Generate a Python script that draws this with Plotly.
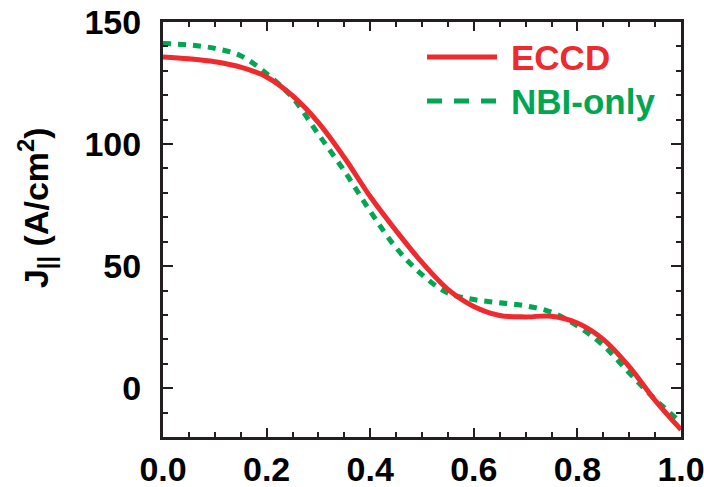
import plotly.graph_objects as go

# Data
rho = [0.00, 0.05, 0.10, 0.15, 0.20, 0.25, 0.30, 0.35, 0.40, 0.45, 0.50,
       0.55, 0.60, 0.65, 0.70, 0.75, 0.80, 0.85, 0.90, 0.95, 1.00]
eccd = [135.7, 134.9, 133.7, 131.5, 127.5, 119.8, 108.8, 94.5, 78.5, 64.5, 51.5,
        40.5, 33.5, 29.8, 29.2, 29.5, 26.7, 20.0, 8.8, -5.0, -17.0]
nbi = [141.2, 140.6, 139.2, 136.2, 128.8, 119.0, 104.0, 89.0, 72.5, 57.5, 46.5,
       39.0, 36.3, 35.0, 33.7, 31.1, 25.5, 17.5, 6.3, -4.6, -14.0]

series_names = ["ECCD", "NBI-only"]
x_ticks = [0.0, 0.2, 0.4, 0.6, 0.8, 1.0]
x_ticklabels = ["0.0", "0.2", "0.4", "0.6", "0.8", "1.0"]
y_ticks = [0, 50, 100, 150]

RED = "#EE2A2E"
GREEN = "#00A651"
AXC = "#231F20"
FONT = "Liberation Sans Narrow, Arial Narrow, Liberation Sans, Arial, sans-serif"

fig = go.Figure()
fig.add_trace(go.Scatter(x=rho, y=nbi, mode="lines", name=series_names[1],
                         line=dict(color=GREEN, width=5, dash="8px,7px", shape="spline", smoothing=1.0)))
fig.add_trace(go.Scatter(x=rho, y=eccd, mode="lines", name=series_names[0],
                         line=dict(color=RED, width=5, shape="spline", smoothing=1.0)))

axis_common = dict(showgrid=False, zeroline=False, showline=True, linecolor=AXC, linewidth=3,
                   mirror="ticks", ticks="inside", tickcolor=AXC, tickwidth=2, automargin=False,
                   ticklabeloverflow="allow",
                   tickfont=dict(family=FONT, size=34, color="black", weight="bold"))

fig.update_xaxes(range=[0, 1], tickvals=x_ticks, ticktext=x_ticklabels, ticklen=9,
                 minor=dict(dtick=0.05, tick0=0, ticks="inside", ticklen=5, tickwidth=2, tickcolor=AXC),
                 ticklabelstandoff=0, **axis_common)
fig.update_yaxes(range=[-20, 150], tickvals=y_ticks, ticklen=10,
                 minor=dict(dtick=10, tick0=0, ticks="inside", ticklen=5, tickwidth=2, tickcolor=AXC),
                 ticklabelstandoff=12, **axis_common)

# y-axis title
fig.add_annotation(text="J<sub>||</sub> (A/cm<sup>2</sup>)", xref="paper", yref="paper",
                   x=-0.245, y=(437 - 208) / 415, textangle=-90, showarrow=False,
                   xanchor="center", yanchor="middle",
                   font=dict(family=FONT, size=34, color="black", weight="bold"))

# legend (manual)
leg = [(series_names[0], RED, "solid", (437 - 57) / 415),
       (series_names[1], GREEN, "15px,12px", (437 - 101) / 415)]
for name, col, dash, yy in leg:
    fig.add_shape(type="line", xref="paper", yref="paper", x0=0.5097, x1=0.6448, y0=yy, y1=yy,
                  line=dict(color=col, width=5, dash=dash))
    fig.add_annotation(text=name, xref="paper", yref="paper", x=0.668, y=yy,
                       xanchor="left", yanchor="middle", showarrow=False,
                       font=dict(family=FONT, size=35, color=col, weight="bold"))

fig.update_layout(width=704, height=487, margin=dict(l=163, r=23, t=22, b=50, autoexpand=False),
                  plot_bgcolor="white", paper_bgcolor="white", showlegend=False)

fig.write_html("out.html")
